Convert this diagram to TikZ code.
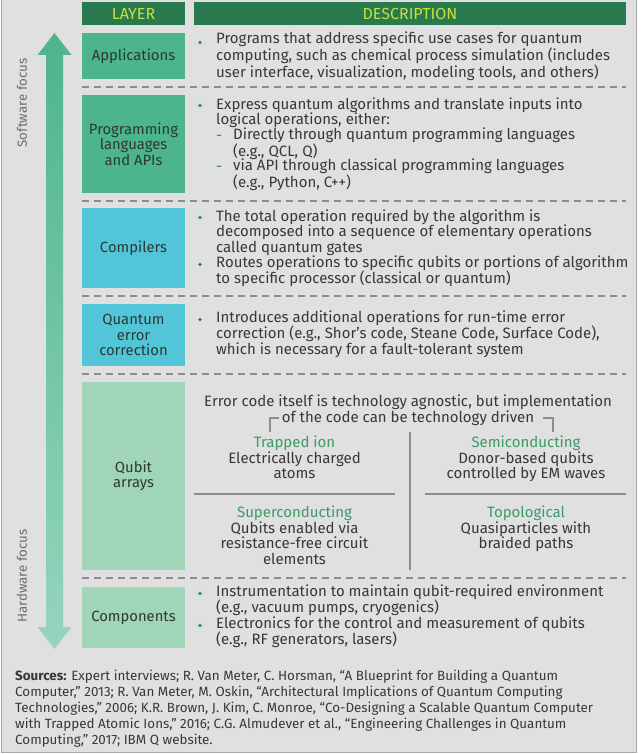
\documentclass[tikz,border=0pt]{standalone}
\usepackage{fontspec}
\setmainfont{Fira Sans}
\usetikzlibrary{calc}
\definecolor{bgc}{HTML}{E0E0E0}
\definecolor{framec}{HTML}{A8A8A8}
\definecolor{hdrc}{HTML}{2A7A50}
\definecolor{hdrt}{HTML}{C8E03C}
\definecolor{greenA}{HTML}{4DB58B}
\definecolor{cyanB}{HTML}{52C6D8}
\definecolor{greenC}{HTML}{A0D5BA}
\definecolor{txt}{HTML}{383838}
\definecolor{labt}{HTML}{2C3833}
\definecolor{sepc}{HTML}{8C8C8C}
\definecolor{titc}{HTML}{3C9A6A}
\definecolor{bulc}{HTML}{2E8B57}
\definecolor{sidec}{HTML}{6E6E6E}
\begin{document}
\begin{tikzpicture}[x=1pt,y=-1pt,
  hdr/.style={fill=hdrc,text=hdrt,inner sep=0,font=\fontsize{16}{17}\selectfont,minimum height=23pt},
  layerbox/.style={inner sep=0,minimum width=103pt,align=center,text=labt,font=\fontsize{14.8}{15.5}\selectfont},
  desc/.style={inner sep=0,anchor=base west,align=left,text=txt,font=\fontsize{15}{15.4}\selectfont},
  quad/.style={inner sep=0,anchor=base,align=center,text=txt,font=\fontsize{15}{15.5}\selectfont},
  sep/.style={draw=sepc,line width=1.3pt,dash pattern=on 7pt off 5pt},
  solid sep/.style={draw=sepc,line width=1.3pt},
  bul/.style={fill=bulc},
  side/.style={text=sidec,font=\fontsize{13.3}{15}\selectfont,rotate=90,inner sep=0}
]
\useasboundingbox (0,0) rectangle (640,754);
\fill[white] (0,0) rectangle (640,754);
\filldraw[fill=bgc,draw=framec,line width=0.8pt] (1.5,-1) rectangle (636,752);

% headers
\node[hdr,minimum width=103pt] (hl) at (133.5,13.5) {LAYER};
\node[hdr,minimum width=432pt] (hd) at (410,13.5) {DESCRIPTION};

% arrow
\shade[top color=greenA,middle color=cyanB,bottom color={rgb,255:red,150;green,213;blue,190}]
  (54.5,33) -- (71.5,55) -- (63,55) -- (63,627) -- (71.5,627) -- (54.5,649)
  -- (37.5,627) -- (46,627) -- (46,55) -- (37.5,55) -- cycle;
\node[side] (sw) at (22,103) {Software focus};
\node[side] (hw) at (22,576) {Hardware focus};

% layer boxes
\node[layerbox,fill=greenA,minimum height=46pt] (app) at (133.5,56) {Applications};
\node[layerbox,fill=greenA,minimum height=98pt] (prog) at (133.5,144) {Programming\\languages\\and APIs};
\node[layerbox,fill=cyanB,minimum height=80pt] (comp) at (133.5,248) {Compilers};
\node[layerbox,fill=cyanB,minimum height=62pt] (qec) at (133.5,335) {Quantum\\error\\correction};
\node[layerbox,fill=greenC,minimum height=188pt] (qub) at (133.5,476) {Qubit\\arrays};
\node[layerbox,fill=greenC,minimum height=61pt] (cmp) at (133.5,617.5) {Components};

% separators
\foreach \yy in {87,201,296,374,578} \draw[sep] (82,\yy) -- (626,\yy);

% descriptions (anchor = baseline of last line)
\fill[bul] (200,42.5) circle (1.9);
\node[desc] (dapp) at (216,77.3) {Programs that address specific use cases for quantum\\computing, such as chemical process simulation (includes\\user interface, visualization, modeling tools, and others)};

\fill[bul] (200,105.5) circle (1.9);
\node[desc] (dprog) at (216,124.9) {Express quantum algorithms and translate inputs into\\logical operations, either:};
\node[desc,text=bulc] (dash1) at (216,141) {-};
\node[desc] (dprog1) at (233,156.4) {Directly through quantum programming languages\\(e.g., QCL, Q)};
\node[desc,text=bulc] (dash2) at (216,171.8) {-};
\node[desc] (dprog2) at (233,187.2) {via API through classical programming languages\\(e.g., Python, C++)};

\fill[bul] (200,217.5) circle (1.9);
\node[desc] (dcomp1) at (216,252.3) {The total operation required by the algorithm is\\decomposed into a sequence of elementary operations\\called quantum gates};
\fill[bul] (200,264.5) circle (1.9);
\node[desc] (dcomp2) at (216,283.9) {Routes operations to specific qubits or portions of algorithm\\to specific processor (classical or quantum)};

\fill[bul] (200,319.5) circle (1.9);
\node[desc] (dqec) at (216,354.3) {Introduces additional operations for run-time error\\correction (e.g., Shor's code, Steane Code, Surface Code),\\which is necessary for a fault-tolerant system};

% qubit arrays
\node[quad] (qtop) at (408,422) {Error code itself is technology agnostic, but implementation\\of the code can be technology driven};
\coordinate (bl1) at (270,432); \coordinate (bl2) at (270,418); \coordinate (bl3) at (279,418);
\coordinate (br1) at (543,418); \coordinate (br2) at (553,418); \coordinate (br3) at (553,432);
\draw[solid sep,line width=1.1pt] (bl1) -- (bl2) -- (bl3);
\draw[solid sep,line width=1.1pt] (br1) -- (br2) -- (br3);
\draw[solid sep] (410,432) -- (410,570);
\draw[solid sep] (194,494) -- (395,494);
\draw[solid sep] (425,494) -- (626,494);

\node[quad] (q1) at (294.5,478.5) {\textcolor{titc}{Trapped ion}\\Electrically charged\\atoms};
\node[quad] (q2) at (526,478.5) {\textcolor{titc}{Semiconducting}\\Donor-based qubits\\controlled by EM waves};
\node[quad] (q3) at (294.5,564) {\textcolor{titc}{Superconducting}\\Qubits enabled via\\resistance-free circuit\\elements};
\node[quad] (q4) at (526,548.5) {\textcolor{titc}{Topological}\\Quasiparticles with\\braided paths};

% components
\fill[bul] (200,593.5) circle (1.9);
\node[desc] (dcmp1) at (216,612.9) {Instrumentation to maintain qubit-required environment\\(e.g., vacuum pumps, cryogenics)};
\fill[bul] (200,625.5) circle (1.9);
\node[desc] (dcmp2) at (216,644.9) {Electronics for the control and measurement of qubits\\(e.g., RF generators, lasers)};

% sources
\node[inner sep=0,anchor=base west,align=left,text=txt,font=\fontsize{13.4}{16.2}\selectfont] (src) at (15,744.8)
{\textbf{Sources:} Expert interviews; R. Van Meter, C. Horsman, “A Blueprint for Building a Quantum\\
Computer,” 2013; R. Van Meter, M. Oskin, “Architectural Implications of Quantum Computing\\
Technologies,” 2006; K.R. Brown, J. Kim, C. Monroe, “Co-Designing a Scalable Quantum Computer\\
with Trapped Atomic Ions,” 2016; C.G. Almudever et al., “Engineering Challenges in Quantum\\
Computing,” 2017; IBM Q website.};
\end{tikzpicture}
\end{document}
